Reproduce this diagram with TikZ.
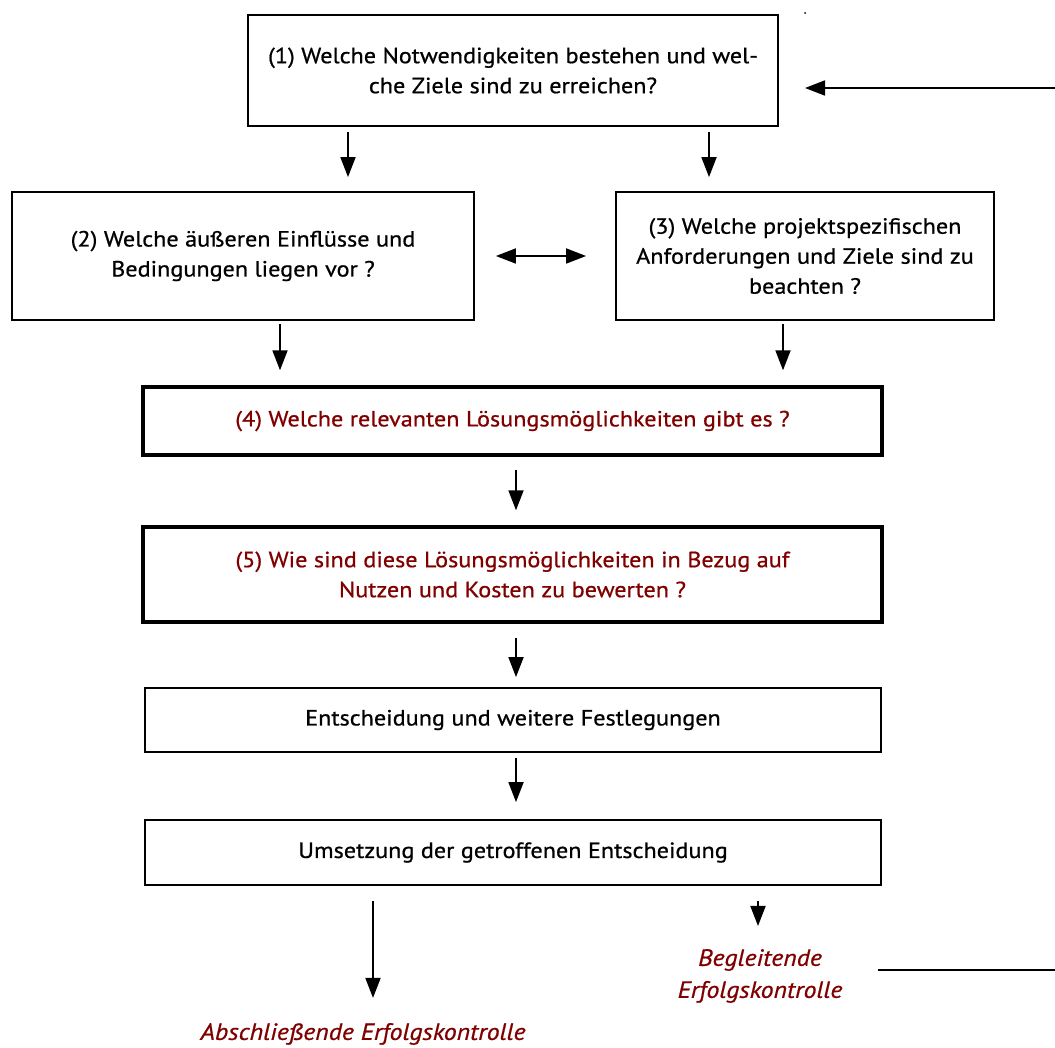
\documentclass[tikz,border=0pt]{standalone}
\usepackage{fontspec}
\setmainfont[FakeStretch=1.1,FakeBold=0.7]{PT Sans}
\usetikzlibrary{arrows.meta}
\definecolor{dred}{RGB}{128,0,0}
\begin{document}
\begin{tikzpicture}[x=1pt,y=-1pt,
  font=\fontsize{22}{30}\selectfont,
  box/.style={draw, line width=1.8pt, inner sep=0pt, align=center},
  tbox/.style={draw, line width=3.4pt, inner sep=0pt, align=center, text=dred},
  arr/.style={line width=1.8pt, -{Triangle[length=20pt,width=15pt]}},
  darr/.style={line width=1.8pt, {Triangle[length=20pt,width=15pt]}-{Triangle[length=20pt,width=15pt]}},
  ctl/.style={text=dred, font=\fontsize{23.5}{32}\selectfont\itshape, align=center, inner sep=0pt}]
\useasboundingbox (0,0) rectangle (1055,1048);
\fill[white] (0,0) rectangle (1055,1048);

\node[box, minimum width=530pt, minimum height=111pt] (b1) at (513,70.5)
  {(1) Welche Notwendigkeiten bestehen und wel-\\che Ziele sind zu erreichen?};
\node[box, minimum width=462pt, minimum height=128pt] (b2) at (243,256)
  {(2) Welche äußeren Einflüsse und\\Bedingungen liegen vor ?};
\node[box, minimum width=378pt, minimum height=128pt] (b3) at (805,256)
  {(3) Welche projektspezifischen\\Anforderungen und Ziele sind zu\\beachten ?};
\node[tbox, minimum width=739pt, minimum height=68pt] (b4) at (512.5,421)
  {(4) Welche relevanten Lösungsmöglichkeiten gibt es ?};
\node[tbox, minimum width=739pt, minimum height=95pt] (b5) at (512.5,574.5)
  {(5) Wie sind diese Lösungsmöglichkeiten in Bezug auf\\Nutzen und Kosten zu bewerten ?};
\node[box, minimum width=736pt, minimum height=64pt] (b6) at (513,720)
  {Entscheidung und weitere Festlegungen};
\node[box, minimum width=736pt, minimum height=65pt] (b7) at (513,852.5)
  {Umsetzung der getroffenen Entscheidung};

\node[ctl] (beg) at (760,976) {Begleitende\\Erfolgskontrolle};
\node[ctl] (abs) at (363,1034) {Abschließende Erfolgskontrolle};

\coordinate (xa) at (348,0);
\coordinate (xb) at (709,0);
\coordinate (xc) at (280,0);
\coordinate (xd) at (783,0);
\coordinate (xe) at (516,0);
\coordinate (xf) at (373,0);
\coordinate (xg) at (758,0);
\coordinate (rin) at (1055,88);
\coordinate (rend) at (805,88);
\coordinate (lnA) at (878,970);
\coordinate (lnB) at (1055,970);

\draw[arr, shorten <=5pt, shorten >=14pt] (b1.south -| xa) -- (b2.north -| xa);
\draw[arr, shorten <=5pt, shorten >=14pt] (b1.south -| xb) -- (b3.north -| xb);
\draw[darr, shorten <=21pt, shorten >=29pt] (b2.east) -- (b3.west |- b2.east);
\draw[arr, shorten <=3pt, shorten >=15pt] (b2.south -| xc) -- (b4.north -| xc);
\draw[arr, shorten <=3pt, shorten >=15pt] (b3.south -| xd) -- (b4.north -| xd);
\draw[arr, shorten <=13pt, shorten >=15pt] (b4.south -| xe) -- (b5.north -| xe);
\draw[arr, shorten <=14pt, shorten >=10pt] (b5.south -| xe) -- (b6.north -| xe);
\draw[arr, shorten <=5pt, shorten >=17pt] (b6.south -| xe) -- (b7.north -| xe);
\draw[arr, shorten <=15pt, shorten >=25pt] (b7.south -| xf) -- (abs.north -| xf);
\draw[arr, shorten <=15pt, shorten >=23pt] (b7.south -| xg) -- (beg.north -| xg);
\draw[arr] (rin) -- (rend);
\draw[line width=1.8pt] (lnA) -- (lnB);
\fill (805,13) circle (1pt);
\end{tikzpicture}
\end{document}
